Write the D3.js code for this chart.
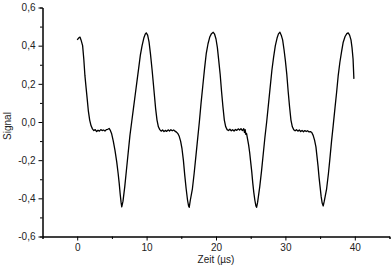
<!DOCTYPE html>
<html>
<head>
<meta charset="utf-8">
<script src="https://cdn.jsdelivr.net/npm/d3@7"></script>
<style>
  body { margin: 0; background: #fff; }
  svg { display: block; font-family: "Liberation Sans", Arial, sans-serif; }
  .axis path, .axis line { stroke: #000; }
  .axis text { fill: #222; font-size: 10px; }
</style>
</head>
<body>
<svg width="391" height="270"></svg>
<script>
// time in µs, signal
var time = [
  0.0, 0.2, 0.4, 0.55, 0.78, 0.95, 1.11, 1.28, 1.44, 1.6, 1.8, 2.0, 2.2,
  2.4, 2.6, 2.8, 3.0, 3.2, 3.4, 3.6, 3.8, 4.0, 4.2, 4.4, 4.6, 4.75,
  4.95, 5.2, 5.45, 5.7, 5.9, 6.05, 6.2, 6.32, 6.42,
  6.6, 6.85, 7.1, 7.35, 7.6, 7.85, 8.1, 8.35, 8.6, 8.85, 9.1, 9.35, 9.6, 9.8, 9.95,
  10.15, 10.35, 10.55, 10.8, 11.05, 11.3, 11.5, 11.7, 11.9, 12.1,
  12.3, 12.5, 12.7, 12.9, 13.1, 13.3, 13.5, 13.7, 13.9, 14.1, 14.3, 14.5, 14.7,
  14.9, 15.1, 15.3, 15.5, 15.7, 15.9, 16.05, 16.14,
  16.3, 16.6, 16.85, 17.1, 17.35, 17.6, 17.85, 18.1, 18.35, 18.6, 18.85, 19.1, 19.35, 19.6,
  19.8, 20.0, 20.2, 20.4, 20.6, 20.8, 21.0, 21.2, 21.4, 21.6, 21.8,
  22.0, 22.2, 22.4, 22.6, 22.8, 23.0, 23.2, 23.4, 23.6, 23.8, 24.0, 24.1, 24.2, 24.3, 24.4,
  24.55, 24.7, 24.85, 25.0, 25.15, 25.3, 25.45, 25.6, 25.75, 25.85,
  26.0, 26.3, 26.55, 26.8, 27.05, 27.3, 27.55, 27.8, 28.05, 28.3, 28.55, 28.8, 29.0, 29.21,
  29.4, 29.6, 29.8, 30.0, 30.2, 30.4, 30.6, 30.8, 31.0, 31.2, 31.4,
  31.6, 31.8, 32.0, 32.2, 32.4, 32.6, 32.8, 33.0, 33.2, 33.4, 33.6, 33.8,
  34.0, 34.2, 34.4, 34.55, 34.7, 34.85, 35.0, 35.15, 35.3, 35.45,
  35.6, 35.94, 36.2, 36.41, 36.65, 36.89, 37.15, 37.38, 37.6, 37.85, 38.1, 38.33, 38.6, 38.85, 39.05,
  39.25, 39.45, 39.6, 39.75, 39.87
];
var signal = [
  0.43, 0.44, 0.445, 0.43, 0.40, 0.33, 0.244, 0.18, 0.121, 0.06, 0.01, -0.02, -0.036,
  -0.045, -0.04, -0.05, -0.043, -0.048, -0.04, -0.045, -0.042, -0.047, -0.04, -0.038, -0.034, -0.042,
  -0.06, -0.1, -0.15, -0.21, -0.27, -0.32, -0.38, -0.42, -0.445,
  -0.415, -0.34, -0.25, -0.16, -0.07, 0.0, 0.07, 0.14, 0.21, 0.28, 0.35, 0.40, 0.44, 0.46, 0.467,
  0.455, 0.42, 0.36, 0.27, 0.17, 0.07, 0.01, -0.025, -0.04, -0.048,
  -0.042, -0.05, -0.044, -0.049, -0.041, -0.047, -0.04, -0.046, -0.042, -0.048, -0.053, -0.06, -0.075,
  -0.1, -0.14, -0.2, -0.28, -0.35, -0.41, -0.44, -0.447,
  -0.41, -0.35, -0.27, -0.18, -0.09, 0.0, 0.1, 0.19, 0.28, 0.36, 0.41, 0.445, 0.463, 0.47,
  0.46, 0.435, 0.39, 0.32, 0.25, 0.16, 0.08, 0.01, -0.025, -0.04, -0.045,
  -0.038, -0.046, -0.04, -0.047, -0.039, -0.044, -0.036, -0.042, -0.035, -0.045, -0.035, -0.055, -0.04, -0.065, -0.06,
  -0.09, -0.12, -0.16, -0.21, -0.26, -0.32, -0.37, -0.41, -0.44, -0.447,
  -0.42, -0.34, -0.26, -0.17, -0.08, 0.0, 0.09, 0.18, 0.27, 0.34, 0.40, 0.44, 0.462, 0.47,
  0.455, 0.43, 0.38, 0.32, 0.25, 0.16, 0.08, 0.01, -0.025, -0.04, -0.046,
  -0.04, -0.048, -0.042, -0.05, -0.044, -0.051, -0.045, -0.05, -0.046, -0.052, -0.05, -0.055,
  -0.07, -0.095, -0.13, -0.18, -0.23, -0.29, -0.34, -0.39, -0.425, -0.44,
  -0.415, -0.35, -0.27, -0.193, -0.1, -0.018, 0.075, 0.156, 0.24, 0.313, 0.37, 0.418, 0.448, 0.463, 0.467,
  0.455, 0.43, 0.39, 0.33, 0.226
];

var xTicks = [0, 10, 20, 30, 40];
var xMinor = [-5, 5, 15, 25, 35, 45];
var yTicks = [-0.6, -0.4, -0.2, 0.0, 0.2, 0.4, 0.6];
var yMinor = [-0.5, -0.3, -0.1, 0.1, 0.3, 0.5];

function main() {
    var svg = d3.select("svg");

    var xScale = d3.scaleLinear().domain([-5, 45]).range([42.5, 389.5]),
        yScale = d3.scaleLinear().domain([-0.6, 0.6]).range([236.5, 7.5]);

    var de = d3.formatLocale({decimal: ",", thousands: ".", grouping: [3], currency: ["", "€"], minus: "-"});
    var fmt = de.format(".1f");

    // minor ticks first, then the labelled axes on top
    svg.append("g")
       .attr("class", "axis")
       .attr("transform", "translate(0," + 236.5 + ")")
       .call(d3.axisBottom(xScale).tickValues(xMinor).tickSize(2.5).tickFormat(""));

    svg.append("g")
       .attr("class", "axis")
       .attr("transform", "translate(" + 42.5 + ",0)")
       .call(d3.axisLeft(yScale).tickValues(yMinor).tickSize(2.5).tickFormat(""));

    svg.append("g")
       .attr("class", "axis")
       .attr("transform", "translate(0," + 236.5 + ")")
       .call(d3.axisBottom(xScale).tickValues(xTicks).tickSize(4).tickPadding(3).tickSizeOuter(0));

    svg.append("g")
       .attr("class", "axis")
       .attr("transform", "translate(" + 42.5 + ",0)")
       .call(d3.axisLeft(yScale).tickValues(yTicks).tickSize(4).tickPadding(3).tickSizeOuter(0)
             .tickFormat(function(d) { return fmt(d); }));

    svg.append("text")
       .attr("x", 216)
       .attr("y", 263)
       .attr("text-anchor", "middle")
       .attr("font-size", "10px")
       .attr("fill", "#222")
       .text("Zeit (µs)");

    svg.append("text")
       .attr("transform", "translate(10.5,126) rotate(-90)")
       .attr("text-anchor", "middle")
       .attr("font-size", "10px")
       .attr("fill", "#222")
       .text("Signal");

    var line = d3.line()
        .x(function(d, i) { return xScale(time[i]); })
        .y(function(d) { return yScale(d); });

    svg.append("path")
       .datum(signal)
       .attr("fill", "none")
       .attr("stroke", "#000")
       .attr("stroke-width", 1.3)
       .attr("stroke-linejoin", "round")
       .attr("d", line);
}
main();
</script>
</body>
</html>
